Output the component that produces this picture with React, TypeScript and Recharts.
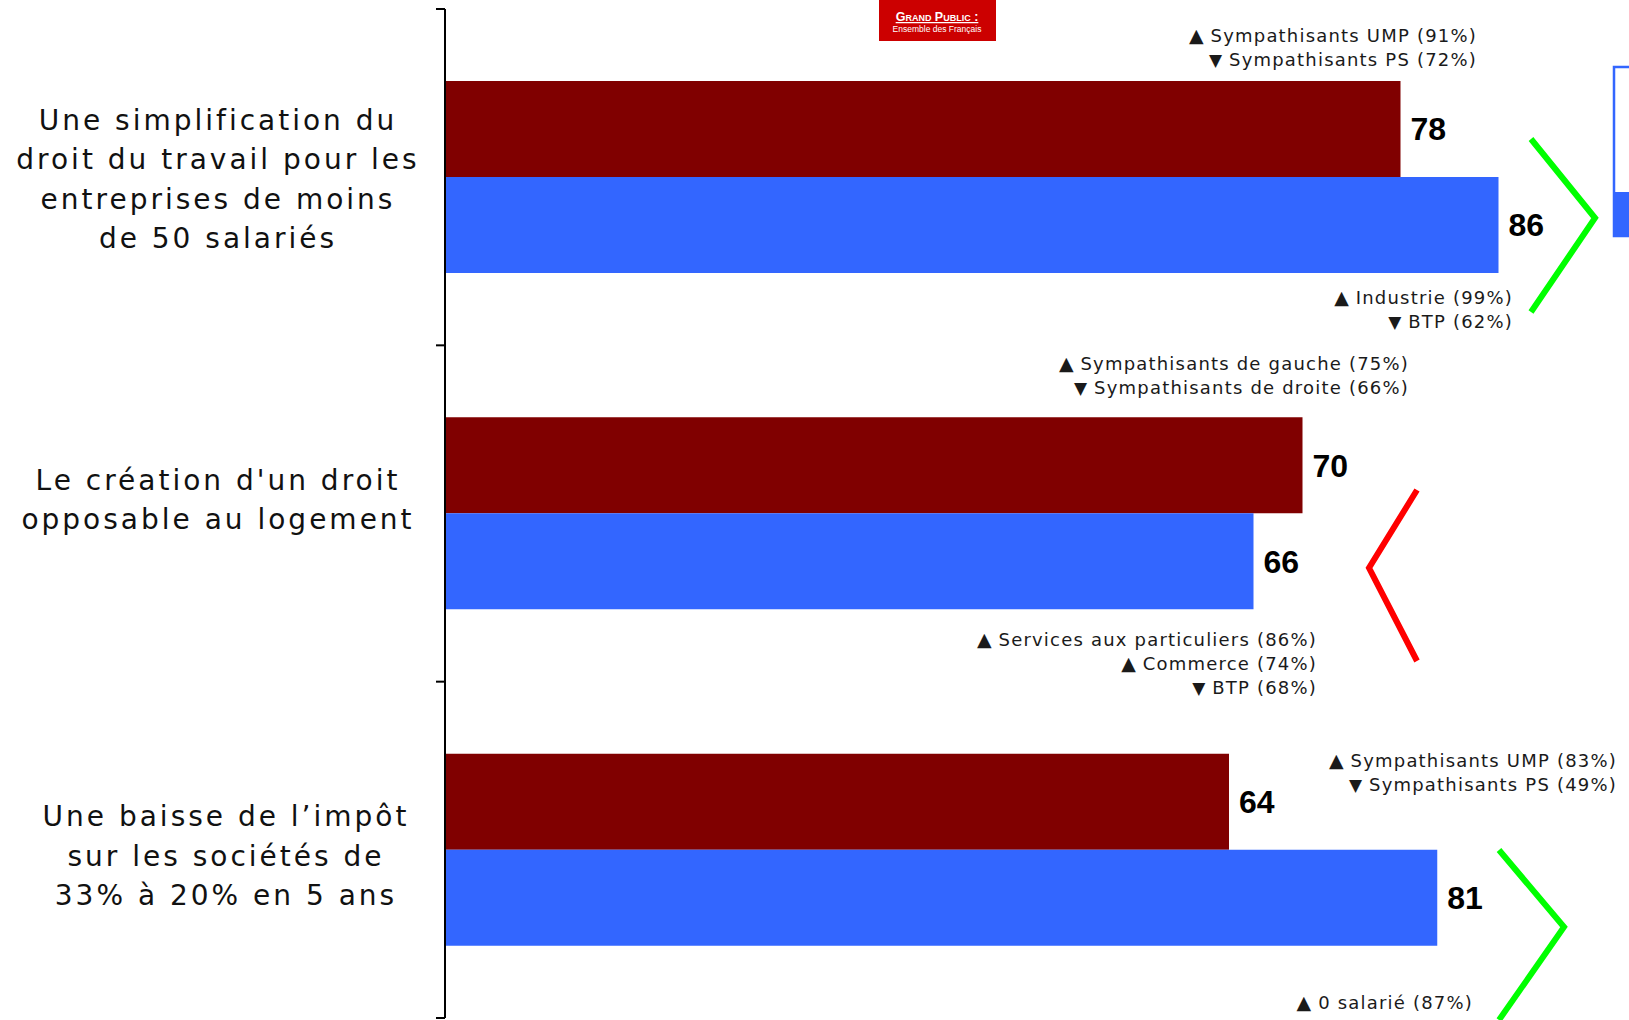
import { Bar, BarChart, LabelList, XAxis, YAxis } from 'recharts';

// categories (one entry per label line) and the two series
const CATEGORY_LINES: string[][] = [
  ['Une simplification du', 'droit du travail pour les', 'entreprises de moins', 'de 50 salariés'],
  ["Le création d'un droit", 'opposable au logement'],
  ['Une baisse de l’impôt', 'sur les sociétés de', '33% à 20% en 5 ans'],
];
const GRAND_PUBLIC = [78, 70, 64];
const DIRIGEANTS = [86, 66, 81];

// sub-group remarks: [direction, text]
type Note = ['up' | 'down', string];
const NOTES_PUBLIC: Note[][] = [
  [['up', 'Sympathisants UMP (91%)'], ['down', 'Sympathisants PS (72%)']],
  [['up', 'Sympathisants de gauche (75%)'], ['down', 'Sympathisants de droite (66%)']],
  [['up', 'Sympathisants UMP (83%)'], ['down', 'Sympathisants PS (49%)']],
];
const NOTES_DIRIGEANTS: Note[][] = [
  [['up', 'Industrie (99%)'], ['down', 'BTP (62%)']],
  [['up', 'Services aux particuliers (86%)'], ['up', 'Commerce (74%)'], ['down', 'BTP (68%)']],
  [['up', '0 salarié (87%)']],
];
const TRENDS: ('up' | 'down')[] = ['up', 'down', 'up'];

const data = CATEGORY_LINES.map((lines, i) => ({
  name: lines.join(' '),
  grandPublic: GRAND_PUBLIC[i],
  dirigeants: DIRIGEANTS[i],
}));

const W = 1670;
const H = 1020;
const AXIS_W = 445;
const MARGIN_TOP = 9;
const MARGIN_BOTTOM = 2;
const BAND = (H - MARGIN_TOP - MARGIN_BOTTOM) / CATEGORY_LINES.length;
const LABEL_SHIFT = [2, -14, 6];
const LABEL_X = [218, 218, 226];

// overlay placement (pixels)
const NOTE_POS_PUBLIC = [
  { x: 1477, y: 42 },
  { x: 1409, y: 370 },
  { x: 1617, y: 767 },
];
const NOTE_POS_DIRIGEANTS = [
  { x: 1513, y: 304 },
  { x: 1317, y: 646 },
  { x: 1473, y: 1009 },
];
const CHEVRONS = [
  { x0: 1531, x1: 1595, top: 139, y: 218, bottom: 312 },
  { x0: 1417, x1: 1369, top: 490, y: 568, bottom: 661 },
  { x0: 1499, x1: 1564, top: 850, y: 927, bottom: 1020 },
];

const FONT = '"DejaVu Sans", Verdana, sans-serif';

function CategoryTick(props: any) {
  const { y, index } = props;
  const lines = CATEGORY_LINES[index] || [];
  const lh = 39.5;
  const top = y + LABEL_SHIFT[index] - ((lines.length - 1) * lh) / 2;
  const cx = LABEL_X[index];
  return (
    <g>
      <line x1={AXIS_W - 9} x2={AXIS_W} y1={y - BAND / 2} y2={y - BAND / 2} stroke='#000' strokeWidth={2} />
      {index === CATEGORY_LINES.length - 1 && (
        <line x1={AXIS_W - 9} x2={AXIS_W} y1={y + BAND / 2} y2={y + BAND / 2} stroke='#000' strokeWidth={2} />
      )}
      <text x={cx} textAnchor='middle' fontFamily={FONT} fontSize={28} letterSpacing={3} fill='#111'>
        {lines.map((l, i) => (
          <tspan key={i} x={cx} y={top + i * lh} dy='0.35em'>
            {l}
          </tspan>
        ))}
      </text>
    </g>
  );
}

function NoteBlock({ notes, x, y }: { notes: Note[]; x: number; y: number }) {
  return (
    <g>
      {notes.map(([dir, txt], i) => (
        <text key={i} x={x} y={y + i * 24} textAnchor='end' fontFamily={FONT} fontSize={18} letterSpacing={1.2} fill='#1a1a1a'>
          <tspan fontSize={dir === 'up' ? 19 : 17} letterSpacing={0}>{dir === 'up' ? '▲' : '▼'}</tspan>
          <tspan> {txt}</tspan>
        </text>
      ))}
    </g>
  );
}

export default function App() {
  return (
    <div style={{ position: 'absolute', left: 0, top: 0, width: 1629, height: 1020, overflow: 'hidden', background: '#fff' }}>
      <BarChart
        width={W}
        height={H}
        data={data}
        layout='vertical'
        margin={{ top: MARGIN_TOP, right: 0, bottom: MARGIN_BOTTOM, left: 0 }}
        barGap={0}
      >
        <XAxis type='number' domain={[0, 100]} hide />
        <YAxis
          type='category'
          dataKey='name'
          width={AXIS_W}
          axisLine={{ stroke: '#000', strokeWidth: 2 }}
          tickLine={false}
          tick={<CategoryTick />}
          interval={0}
        />
        <Bar dataKey='grandPublic' fill='#800000' barSize={96} isAnimationActive={false}>
          <LabelList
            dataKey='grandPublic'
            position='right'
            offset={10}
            fill='#000'
            fontSize={32}
            fontWeight='bold'
            fontFamily='"Liberation Sans", Arial, sans-serif'
          />
        </Bar>
        <Bar dataKey='dirigeants' fill='#3366ff' barSize={96} isAnimationActive={false}>
          <LabelList
            dataKey='dirigeants'
            position='right'
            offset={10}
            fill='#000'
            fontSize={32}
            fontWeight='bold'
            fontFamily='"Liberation Sans", Arial, sans-serif'
          />
        </Bar>
      </BarChart>
      <svg width={1629} height={1020} style={{ position: 'absolute', left: 0, top: 0, pointerEvents: 'none' }}>
        <rect x={879} y={0} width={117} height={41} fill='#cc0000' />
        <text x={937} y={21} textAnchor='middle' fill='#fff' fontSize={12.5} fontWeight='bold' fontFamily='"Liberation Sans", Arial, sans-serif' textDecoration='underline' style={{ fontVariant: 'small-caps' }}>
          Grand Public :
        </text>
        <text x={937} y={32} textAnchor='middle' fill='#fff' fontSize={8.5} fontFamily='"Liberation Sans", Arial, sans-serif'>
          Ensemble des Français
        </text>
        <rect x={1614} y={67} width={40} height={169} fill='#fff' stroke='#3366ff' strokeWidth={2.5} />
        <rect x={1614} y={192} width={40} height={44} fill='#3366ff' />
        {NOTES_PUBLIC.map((n, i) => (
          <NoteBlock key={'p' + i} notes={n} x={NOTE_POS_PUBLIC[i].x} y={NOTE_POS_PUBLIC[i].y} />
        ))}
        {NOTES_DIRIGEANTS.map((n, i) => (
          <NoteBlock key={'d' + i} notes={n} x={NOTE_POS_DIRIGEANTS[i].x} y={NOTE_POS_DIRIGEANTS[i].y} />
        ))}
        {CHEVRONS.map((c, i) => (
          <polyline
            key={i}
            points={`${c.x0},${c.top} ${c.x1},${c.y} ${c.x0},${c.bottom}`}
            fill='none'
            stroke={TRENDS[i] === 'up' ? '#00ff00' : '#ff0000'}
            strokeWidth={6}
          />
        ))}
      </svg>
    </div>
  );
}
